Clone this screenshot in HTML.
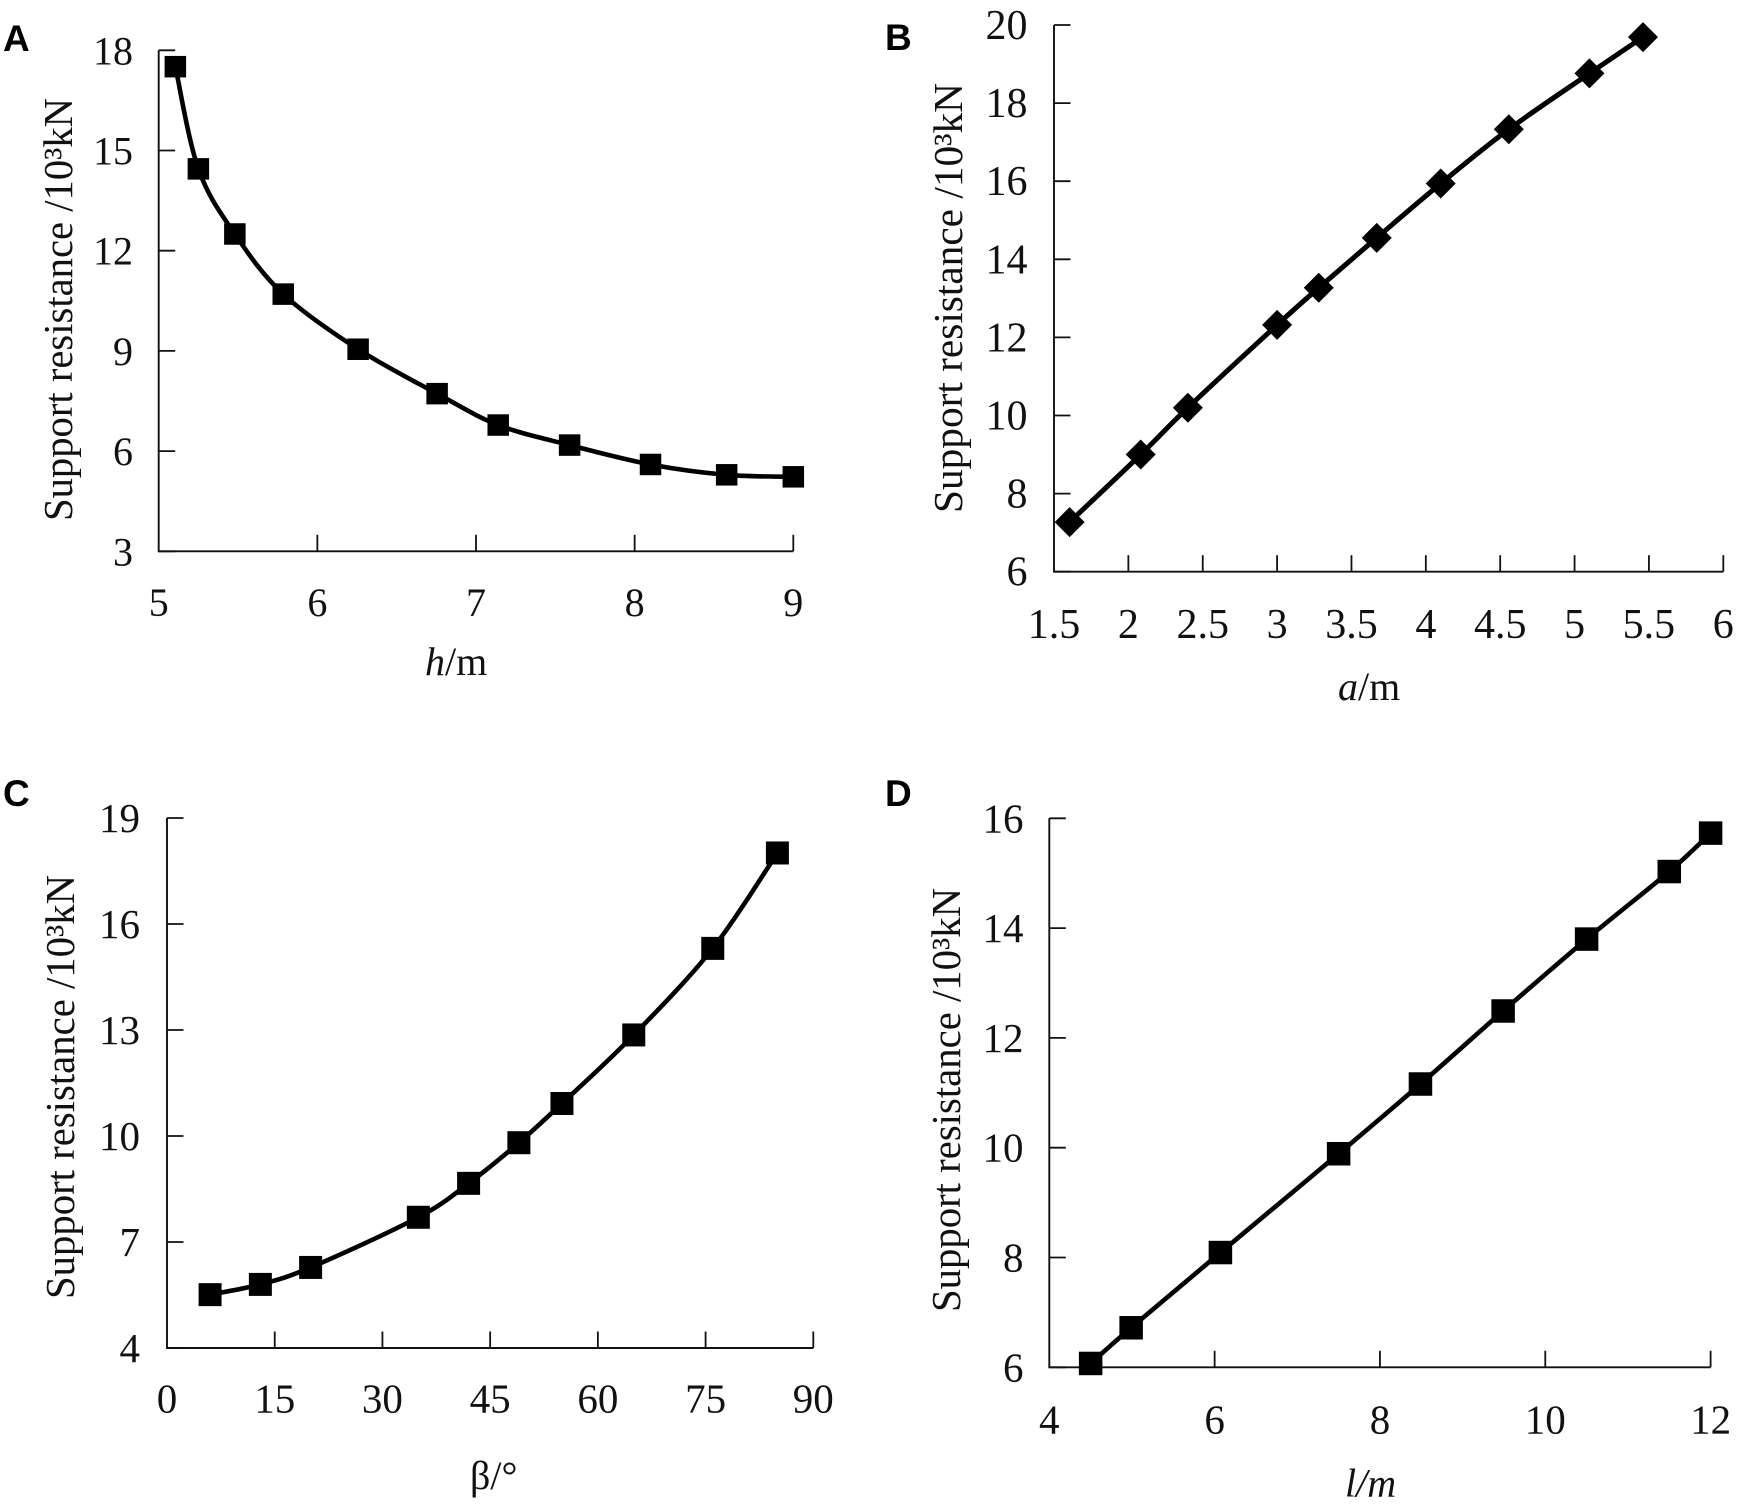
<!DOCTYPE html>
<html lang="en">
<head>
<meta charset="utf-8">
<title>Support resistance charts</title>
<style>
html,body{margin:0;padding:0;background:#fff;width:1741px;height:1509px;overflow:hidden}
svg{display:block}
text{font-family:"Liberation Serif",serif;fill:#111}
.letter{font-family:"Liberation Sans",sans-serif;font-weight:700;font-size:37px;fill:#000}
.ytitle{font-size:41px}
.xtitle{font-size:40px}
</style>
</head>
<body>
<svg id="figure" xmlns="http://www.w3.org/2000/svg" width="1741" height="1509" viewBox="0 0 1741 1509">
  <text class="letter" x="3" y="51">A</text>
  <text class="letter" x="885" y="50">B</text>
  <text class="letter" x="3" y="806">C</text>
  <text class="letter" x="885" y="806">D</text>

  <text class="ytitle" transform="translate(72,521) rotate(-90)" textLength="423" lengthAdjust="spacingAndGlyphs">Support resistance /10³kN</text>
  <text class="ytitle" transform="translate(962,513) rotate(-90)" textLength="430" lengthAdjust="spacingAndGlyphs">Support resistance /10³kN</text>
  <text class="ytitle" transform="translate(74,1299) rotate(-90)" textLength="424" lengthAdjust="spacingAndGlyphs">Support resistance /10³kN</text>
  <text class="ytitle" transform="translate(960,1312) rotate(-90)" textLength="424" lengthAdjust="spacingAndGlyphs">Support resistance /10³kN</text>

  <text class="xtitle" x="425" y="675"><tspan font-style="italic">h</tspan>/m</text>
  <text class="xtitle" x="1338" y="700"><tspan font-style="italic">a</tspan>/m</text>
  <text class="xtitle" x="470" y="1489">β/°</text>
  <text class="xtitle" x="1345" y="1496.5" font-style="italic">l/m</text>
</svg>
<script>
// Panel A
const aCategories = [5.105, 5.25, 5.48, 5.785, 6.257, 6.755, 7.14, 7.59, 8.10, 8.58, 9.0];
const aValues = [17.51, 14.45, 12.50, 10.70, 9.05, 7.72, 6.78, 6.18, 5.60, 5.29, 5.23];
const aXTicks = ["5", "6", "7", "8", "9"];
const aYTicks = ["3", "6", "9", "12", "15", "18"];
// Panel B
const bCategories = [1.605, 2.083, 2.40, 3.0, 3.28, 3.67, 4.10, 4.558, 5.10, 5.46];
const bValues = [7.27, 9.0, 10.2, 12.32, 13.27, 14.55, 15.94, 17.33, 18.76, 19.69];
const bXTicks = ["1.5", "2", "2.5", "3", "3.5", "4", "4.5", "5", "5.5", "6"];
const bYTicks = ["6", "8", "10", "12", "14", "16", "18", "20"];
// Panel C
const cCategories = [6, 13, 20, 35, 42, 49, 55, 65, 76, 85];
const cValues = [5.51, 5.80, 6.28, 7.70, 8.66, 9.81, 10.92, 12.86, 15.31, 18.01];
const cXTicks = ["0", "15", "30", "45", "60", "75", "90"];
const cYTicks = ["4", "7", "10", "13", "16", "19"];
// Panel D
const dCategories = [4.5, 4.99, 6.07, 7.5, 8.49, 9.49, 10.5, 11.5, 12];
const dValues = [6.07, 6.72, 8.09, 9.89, 11.16, 12.49, 13.80, 15.03, 15.73];
const dXTicks = ["4", "6", "8", "10", "12"];
const dYTicks = ["6", "8", "10", "12", "14", "16"];

const NS = "http://www.w3.org/2000/svg";
const svg = document.getElementById("figure");

function make(tag, attrs, parent) {
  const el = document.createElementNS(NS, tag);
  for (const k in attrs) el.setAttribute(k, attrs[k]);
  parent.appendChild(el);
  return el;
}

function smoothPath(pts) {
  let d = "M" + pts[0][0] + " " + pts[0][1];
  for (let i = 0; i < pts.length - 1; i++) {
    const p0 = pts[Math.max(i - 1, 0)], p1 = pts[i], p2 = pts[i + 1], p3 = pts[Math.min(i + 2, pts.length - 1)];
    const c1x = p1[0] + (p2[0] - p0[0]) / 6, c1y = p1[1] + (p2[1] - p0[1]) / 6;
    const c2x = p2[0] - (p3[0] - p1[0]) / 6, c2y = p2[1] - (p3[1] - p1[1]) / 6;
    d += "C" + c1x + " " + c1y + " " + c2x + " " + c2y + " " + p2[0] + " " + p2[1];
  }
  return d;
}

function drawPanel(frame, categories, values, xTicks, yTicks, marker) {
  const g = make("g", {}, svg);
  
  

  const xMin = Number(xTicks[0]), xMax = Number(xTicks[xTicks.length - 1]);
  const yMin = Number(yTicks[0]), yMax = Number(yTicks[yTicks.length - 1]);
  const xAxis = v => frame.left + (v - xMin) / (xMax - xMin) * (frame.right - frame.left);
  const yAxis = v => frame.bottom - (v - yMin) / (yMax - yMin) * (frame.bottom - frame.top);

  const axisPath = make("path", {
    d: "M" + frame.left + " " + frame.top + "V" + frame.bottom + "H" + frame.right,
    fill: "none", stroke: "#111", "stroke-width": 1.9
  }, g);
  
  

  xTicks.forEach((t, i) => {
    const x = xAxis(Number(t));
    if (i > 0) {
      const tick = make("line", { x1: x, x2: x, y1: frame.bottom, y2: frame.bottom - 16.5, stroke: "#111", "stroke-width": 1.8 }, g);
      
      
    }
    const label = make("text", { x: x, y: frame.xLabelY, "font-size": frame.fontSize, "text-anchor": "middle" }, g);
    label.textContent = t;
    
    
  });

  yTicks.forEach(t => {
    const y = yAxis(Number(t));
    const tick = make("line", { x1: frame.left, x2: frame.left + 16.5, y1: y, y2: y, stroke: "#111", "stroke-width": 1.8 }, g);
    
    
    const label = make("text", { x: frame.yLabelX, y: y + 14, "font-size": frame.fontSize, "text-anchor": "end" }, g);
    label.textContent = t;
    
    
  });

  const pts = categories.map((c, i) => [xAxis(c), yAxis(values[i])]);
  const line = make("path", { d: smoothPath(pts), fill: "none", stroke: "#000", "stroke-width": frame.lineWidth }, g);
  
  

  pts.forEach(p => {
    let m;
    if (marker === "diamond") {
      const r = frame.markerSize / 2;
      m = make("polygon", { points: [p[0] - r, p[1], p[0], p[1] - r, p[0] + r, p[1], p[0], p[1] + r].join(" "), fill: "#000" }, g);
    } else {
      const s = frame.markerSize;
      m = make("rect", { x: p[0] - s / 2, y: p[1] - s / 2, width: s, height: s, fill: "#000" }, g);
    }
    
    
  });
}

drawPanel({ left: 158.7, right: 793.3, top: 50.3, bottom: 551.3, xLabelY: 616, yLabelX: 133, fontSize: 40, lineWidth: 4.6, markerSize: 21.5 }, aCategories, aValues, aXTicks, aYTicks, "square");
drawPanel({ left: 1054, right: 1723.3, top: 25, bottom: 571.7, xLabelY: 638, yLabelX: 1027.5, fontSize: 42, lineWidth: 5, markerSize: 30 }, bCategories, bValues, bXTicks, bYTicks, "diamond");
drawPanel({ left: 167, right: 813.3, top: 818, bottom: 1348, xLabelY: 1412.5, yLabelX: 140, fontSize: 41, lineWidth: 4.6, markerSize: 23 }, cCategories, cValues, cXTicks, cYTicks, "square");
drawPanel({ left: 1049.3, right: 1710.6, top: 818.3, bottom: 1367.3, xLabelY: 1433.5, yLabelX: 1023.5, fontSize: 41, lineWidth: 4.6, markerSize: 23.5 }, dCategories, dValues, dXTicks, dYTicks, "square");
</script>
</body>
</html>
